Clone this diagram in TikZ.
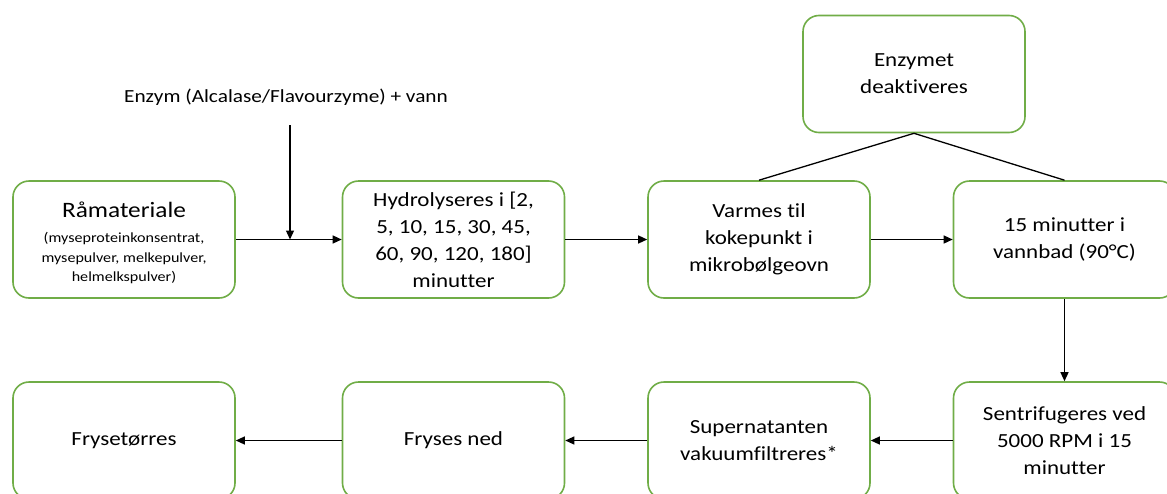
\documentclass[tikz,border=0pt]{standalone}
\usepackage{fontspec}
\setmainfont{Carlito}[FakeStretch=1.15, Ligatures=NoCommon]
\usetikzlibrary{arrows.meta}
\definecolor{boxgreen}{RGB}{112,173,71}
\newcommand{\smallnote}{\fontsize{14}{19.5}\selectfont}
\tikzset{
  stepbox/.style={draw=boxgreen, line width=1.6pt, rounded corners=16pt, fill=white,
    minimum width=222pt, minimum height=117pt, align=center, inner sep=2pt,
    font=\fontsize{20}{27}\selectfont},
  flow/.style={draw=black, line width=1.3pt, -{Triangle[length=9pt,width=8pt]}},
  plain/.style={draw=black, line width=1.3pt}
}
\begin{document}
\begin{tikzpicture}[x=1pt,y=-1pt]
\useasboundingbox (0,0) rectangle (1167,493);
\clip (0,0) rectangle (1167,493);
\node[stepbox] (raa) at (124,239.5) {\rule{0pt}{26pt}{\fontsize{22}{27}\selectfont Råmateriale}\\[-2pt]{\smallnote\begin{tabular}[t]{@{}c@{}}(myseproteinkonsentrat,\\ mysepulver, melkepulver,\\ helmelkspulver)\end{tabular}}};
\node[stepbox] (hyd) at (453.5,239.5) {Hydrolyseres i [2,\\ 5, 10, 15, 30, 45,\\ 60, 90, 120, 180]\\ minutter};
\node[stepbox] (var) at (759,239.5) {Varmes til\\ kokepunkt i\\ mikrobølgeovn};
\node[stepbox] (vbad) at (1064.5,239.5) {15 minutter i\\ vannbad (90°C)};
\node[stepbox] (enz) at (914,74) {Enzymet\\ deaktiveres};
\node[stepbox] (sent) at (1064.5,440.5) {Sentrifugeres ved\\ 5000 RPM i 15\\ minutter};
\node[stepbox] (sup) at (759,440.5) {Supernatanten\\ vakuumfiltreres*};
\node[stepbox] (frn) at (453.5,440.5) {Fryses ned};
\node[stepbox] (frt) at (124,440.5) {Frysetørres};
\node[font=\fontsize{18.5}{22}\selectfont] (enzlab) at (286,97) {Enzym (Alcalase/Flavourzyme) + vann};
\coordinate (enzin) at (290,125);
\coordinate (join) at (290,239.5);
\draw[flow] (raa.east) -- (hyd.west);
\draw[flow] (enzin) -- (join);
\draw[flow] (hyd.east) -- (var.west);
\draw[flow] (var.east) -- (vbad.west);
\draw[plain] (enz.south) -- (var.north);
\draw[plain] (enz.south) -- (vbad.north);
\draw[flow] (vbad.south) -- (sent.north);
\draw[flow] (sent.west) -- (sup.east);
\draw[flow] (sup.west) -- (frn.east);
\draw[flow] (frn.west) -- (frt.east);
\end{tikzpicture}
\end{document}
